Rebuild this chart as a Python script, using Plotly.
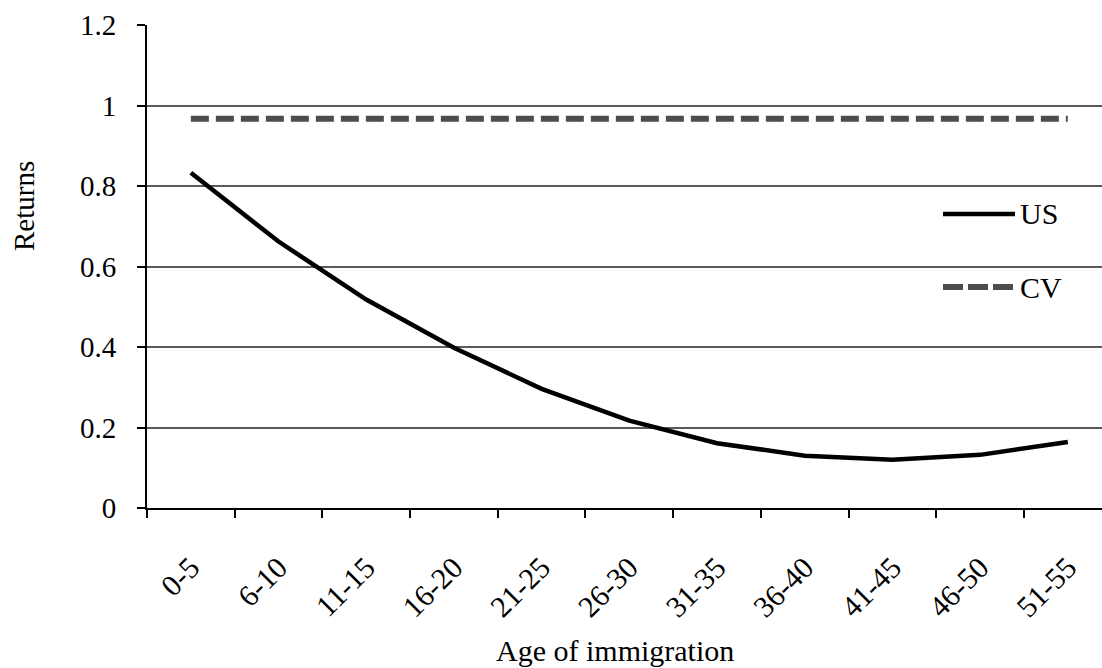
import plotly.graph_objects as go

categories = ["0-5", "6-10", "11-15", "16-20", "21-25", "26-30", "31-35",
              "36-40", "41-45", "46-50", "51-55"]
us_values = [0.833, 0.662, 0.518, 0.398, 0.296, 0.217, 0.161, 0.130, 0.120, 0.132, 0.164]
cv_values = [0.967] * len(categories)
y_ticks = [0, 0.2, 0.4, 0.6, 0.8, 1, 1.2]
y_ticktext = ["0", "0.2", "0.4", "0.6", "0.8", "1", "1.2"]

FONT = "Liberation Serif"
W, H = 1102, 668
L, R, T, B = 147, 0, 25, 160

fig = go.Figure()
fig.add_trace(go.Scatter(x=categories, y=us_values, mode="lines", name="US",
                         line=dict(color="#000000", width=4.5), showlegend=False))
fig.add_trace(go.Scatter(x=categories, y=cv_values, mode="lines", name="CV",
                         line=dict(color="#4d4d4d", width=6, dash="18px,7px"), showlegend=False))

# manual legend (paper coords)
def px_x(p):
    return (p - L) / (W - L - R)

def px_y(p):
    return (H - B - p) / (H - T - B)

fig.add_shape(type="line", xref="paper", yref="paper", x0=px_x(943), x1=px_x(1015),
              y0=px_y(214), y1=px_y(214), line=dict(color="#000000", width=4.5))
fig.add_shape(type="line", xref="paper", yref="paper", x0=px_x(943), x1=px_x(1015),
              y0=px_y(287), y1=px_y(287), line=dict(color="#4d4d4d", width=6, dash="20px,5px"))
fig.add_annotation(text="US", xref="paper", yref="paper", x=px_x(1018), y=px_y(214),
                   xanchor="left", yanchor="middle", showarrow=False,
                   font=dict(family=FONT, size=30, color="#000"))
fig.add_annotation(text="CV", xref="paper", yref="paper", x=px_x(1018), y=px_y(287),
                   xanchor="left", yanchor="middle", showarrow=False,
                   font=dict(family=FONT, size=30, color="#000"))

# axis titles
fig.add_annotation(text="Returns", xref="paper", yref="paper", x=px_x(24), y=px_y(206),
                   xanchor="center", yanchor="middle", textangle=-90, showarrow=False,
                   font=dict(family=FONT, size=29, color="#000"))
fig.add_annotation(text="Age of immigration", xref="paper", yref="paper", x=px_x(615), y=px_y(650),
                   xanchor="center", yanchor="middle", showarrow=False,
                   font=dict(family=FONT, size=30, color="#000"))

fig.update_layout(
    width=W, height=H,
    margin=dict(l=L, r=R, t=T, b=B, pad=0),
    paper_bgcolor="white", plot_bgcolor="white",
    font=dict(family=FONT, color="#000"),
    showlegend=False,
)
fig.update_xaxes(
    type="category", range=[-0.5, 10.39],
    showline=True, linecolor="#000", linewidth=2,
    ticks="outside", ticklen=8, tickwidth=1.5, tickcolor="#000",
    tickson="boundaries", tickangle=-45,
    tickfont=dict(family=FONT, size=30, color="#000"),
    ticklabelstandoff=28,
    showgrid=False, zeroline=False,
)
fig.update_yaxes(
    range=[0, 1.2], tickvals=y_ticks, ticktext=y_ticktext,
    showline=True, linecolor="#000", linewidth=2,
    ticks="outside", ticklen=8, tickwidth=1.5, tickcolor="#000",
    tickfont=dict(family=FONT, size=29, color="#000"),
    ticklabelstandoff=15,
    showgrid=True, gridcolor="#5a5a5a", gridwidth=1.5,
    zeroline=False,
)

fig.write_html("out.html", config={"displayModeBar": False},
               post_script="document.body.style.margin='0';document.body.style.overflow='hidden';")
